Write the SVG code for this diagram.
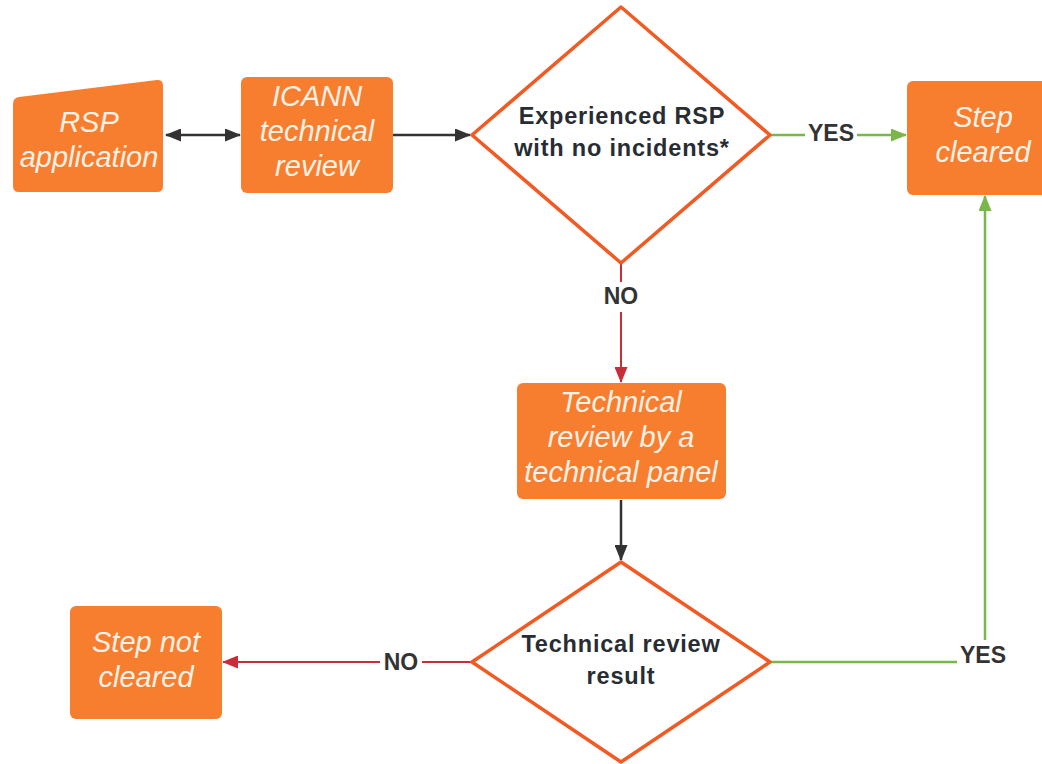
<svg xmlns="http://www.w3.org/2000/svg" width="1042" height="764" viewBox="0 0 1042 764">
<style>
.box{fill:#F77E2E;}
.dia{fill:#fff;stroke:#F15A22;stroke-width:3.5;stroke-linejoin:round;}
.it{font-family:"Liberation Sans",Arial,sans-serif;font-style:italic;font-size:29px;fill:#FFF1E6;text-anchor:middle;}
.bd{font-family:"Liberation Sans",Arial,sans-serif;font-weight:bold;font-size:23.5px;fill:#282C33;text-anchor:middle;letter-spacing:0.8px;}
.lbl{font-family:"Liberation Sans",Arial,sans-serif;font-weight:bold;font-size:23px;fill:#333;text-anchor:middle;}
.dk{stroke:#333;stroke-width:2.5;fill:none;}
.gr{stroke:#7AB648;stroke-width:2.5;fill:none;}
.rd{stroke:#C92D39;stroke-width:2;fill:none;}
</style>
<defs>
<marker id="ak" viewBox="0 0 16 13" refX="15" refY="6.5" markerWidth="16" markerHeight="13" markerUnits="userSpaceOnUse" orient="auto-start-reverse"><path d="M0,0 L16,6.5 L0,13 Z" fill="#333"/></marker>
<marker id="ag" viewBox="0 0 16 13" refX="15" refY="6.5" markerWidth="16" markerHeight="13" markerUnits="userSpaceOnUse" orient="auto"><path d="M0,0 L16,6.5 L0,13 Z" fill="#7AB648"/></marker>
<marker id="ar" viewBox="0 0 16 13" refX="15" refY="6.5" markerWidth="16" markerHeight="13" markerUnits="userSpaceOnUse" orient="auto"><path d="M0,0 L16,6.5 L0,13 Z" fill="#C92D39"/></marker>
</defs>
<rect width="1042" height="764" fill="#fff"/>
<g id="connectors">
<line class="dk" x1="166" y1="135" x2="240" y2="135" marker-start="url(#ak)" marker-end="url(#ak)"/>
<line class="dk" x1="393" y1="135" x2="470" y2="135" marker-end="url(#ak)"/>
<line class="gr" x1="771" y1="135" x2="906" y2="135" marker-end="url(#ag)"/>
<rect x="805" y="120" width="52" height="26" fill="#fff"/>
<text class="lbl" x="831" y="141">YES</text>
<line class="rd" x1="621" y1="264" x2="621" y2="382" marker-end="url(#ar)"/>
<rect x="600" y="282" width="42" height="30" fill="#fff"/>
<text class="lbl" x="621" y="304">NO</text>
<line class="dk" x1="621" y1="500" x2="621" y2="560" marker-end="url(#ak)"/>
<line class="rd" x1="471" y1="662" x2="223" y2="662" marker-end="url(#ar)"/>
<rect x="380" y="648" width="42" height="28" fill="#fff"/>
<text class="lbl" x="401" y="670">NO</text>
<polyline class="gr" points="771,662 985,662 985,196" marker-end="url(#ag)"/>
<rect x="957" y="640" width="54" height="30" fill="#fff"/>
<text class="lbl" x="983" y="663">YES</text>
</g>
<g id="rsp-application">
<path class="box" d="M13,104 Q13,98 19,97 L157,80 Q163,79 163,86 L163,186 Q163,192 157,192 L19,192 Q13,192 13,186 Z"/>
<text class="it" x="89" y="132">RSP</text>
<text class="it" x="89" y="167">application</text>
</g>
<g id="icann-review">
<rect class="box" x="241" y="77" width="152" height="116" rx="6"/>
<text class="it" x="317" y="106">ICANN</text>
<text class="it" x="317" y="141">technical</text>
<text class="it" x="317" y="176">review</text>
</g>
<g id="decision-experienced">
<polygon class="dia" points="621,7 770,135 621,263 472,135"/>
<text class="bd" x="622" y="124">Experienced RSP</text>
<text class="bd" x="622" y="156">with no incidents*</text>
</g>
<g id="step-cleared">
<rect class="box" x="907" y="81" width="145" height="114" rx="6"/>
<text class="it" x="983" y="127">Step</text>
<text class="it" x="983" y="162">cleared</text>
</g>
<g id="technical-panel">
<rect class="box" x="517" y="383" width="209" height="116" rx="6"/>
<text class="it" x="621" y="412">Technical</text>
<text class="it" x="621" y="447">review by a</text>
<text class="it" x="621" y="482">technical panel</text>
</g>
<g id="decision-result">
<polygon class="dia" points="621,562 770,662 621,762 472,662"/>
<text class="bd" x="621" y="652">Technical review</text>
<text class="bd" x="621" y="684">result</text>
</g>
<g id="step-not-cleared">
<rect class="box" x="70" y="606" width="152" height="113" rx="6"/>
<text class="it" x="146" y="652">Step not</text>
<text class="it" x="146" y="687">cleared</text>
</g>
</svg>
